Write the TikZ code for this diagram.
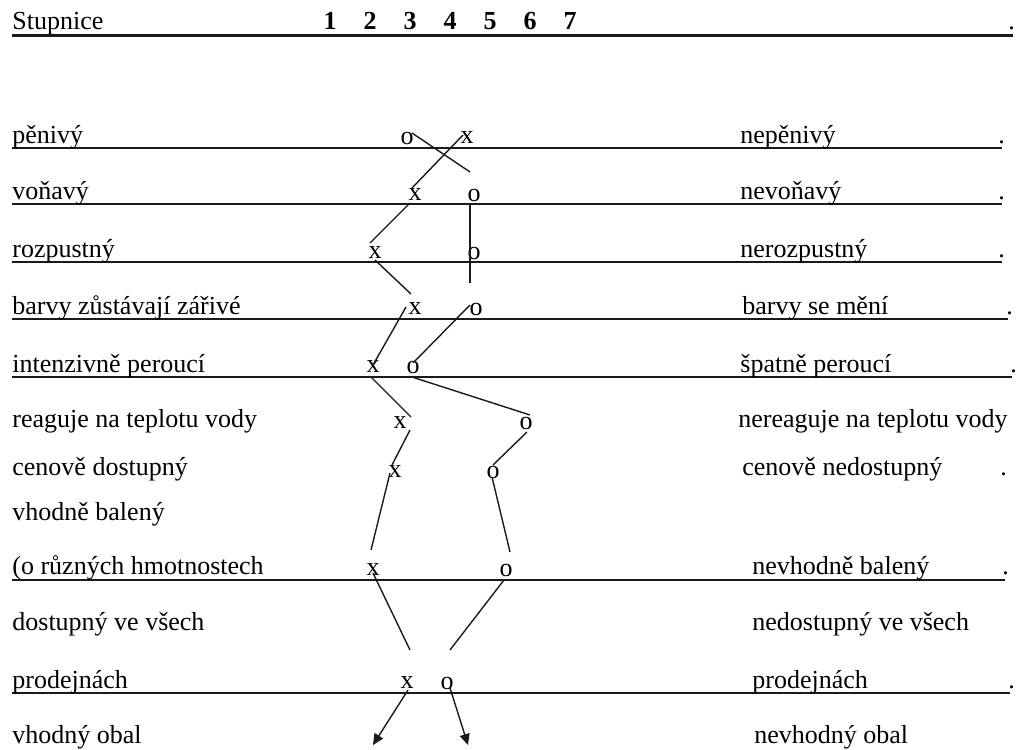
\documentclass[tikz,border=0pt]{standalone}
\usepackage{fontspec}
\setmainfont{Liberation Serif}
\usetikzlibrary{arrows.meta, positioning, calc}
\definecolor{inkBlack}{HTML}{1A1A1A}

\tikzset{
  lbl/.style={anchor=base west, inner sep=0pt},
  pick/.style={inner sep=0pt},
  digit/.style={anchor=base, inner sep=0pt, font=\bfseries\fontsize{13}{15}\selectfont},
  rule/.style={line width=1pt, inkBlack},
  link/.style={line width=0.7pt, inkBlack},
  tip/.style={link, -{Triangle[length=5.5pt, width=5pt]}}
}

\begin{document}
\begin{tikzpicture}[x=0.5pt, y=-0.5pt, font=\fontsize{13}{15}\selectfont]
  \useasboundingbox (0,0) rectangle (1019,750);

  % header of the scale
  \node[lbl] (head) at (12,29) {Stupnice};
  \foreach \n in {1,...,7} \node[digit] (d\n) at ({290+40*\n},29) {\n};
  \draw[line width=1.5pt, inkBlack] (12,35) -- (1013,35);
  \node[lbl] (headdot) at (1008,29) {.};

  % underlines
  \foreach \y/\e in {148/1002, 204/1002, 262/1002, 319/1008, 377/1012, 580/1005, 693/1010}
    \draw[rule] (12,\y) -- (\e,\y);

  % left and right poles
  \foreach \y/\t [count=\i] in {143/pěnivý, 199/voňavý, 257/rozpustný,
      314/barvy zůstávají zářivé, 372/intenzivně peroucí, 427/reaguje na teplotu vody,
      475/cenově dostupný, 520/vhodně balený, 574/{(o různých hmotnostech},
      630/dostupný ve všech, 688/prodejnách, 743/vhodný obal}
    \node[lbl] (l\i) at (12,\y) {\t};
  \foreach \x/\y/\t [count=\i] in {740/143/nepěnivý, 740/199/nevoňavý, 740/257/nerozpustný,
      742/314/barvy se mění, 740/372/špatně peroucí, 738/427/nereaguje na teplotu vody,
      742/475/cenově nedostupný, 752/574/nevhodně balený, 752/630/nedostupný ve všech,
      752/688/prodejnách, 754/743/nevhodný obal}
    \node[lbl] (r\i) at (\x,\y) {\t};
  \foreach \x/\y [count=\i] in {998/143, 998/199, 998/257, 1006/314, 1010/372,
      1000/475, 1002/574, 1008/688}
    \node[lbl] (dot\i) at (\x,\y) {.};

  % ratings
  \node[pick] (o1) at (407,138) {o};  \node[pick] (x1) at (467,138) {x};
  \node[pick] (x2) at (415,195) {x};  \node[pick] (o2) at (474,195) {o};
  \node[pick] (x3) at (375,253) {x};  \node[pick] (o3) at (474,253) {o};
  \node[pick] (x4) at (415,309) {x};  \node[pick] (o4) at (476,309) {o};
  \node[pick] (x5) at (373,367) {x};  \node[pick] (o5) at (413,367) {o};
  \node[pick] (x6) at (400,423) {x};  \node[pick] (o6) at (526,423) {o};
  \node[pick] (x7) at (395,472) {x};  \node[pick] (o7) at (493,472) {o};
  \node[pick] (x8) at (373,570) {x};  \node[pick] (o8) at (506,570) {o};
  \node[pick] (x9) at (407,683) {x};  \node[pick] (o9) at (447,683) {o};
  \coordinate (xend) at (373,745);
  \coordinate (oend) at (468,745);

  % profile of x
  \draw[link] ([shift={(-4,-3)}]x1.center) -- ([shift={(-3,-7)}]x2.center);
  \draw[link] ([shift={(-5,8)}]x2.center) -- ([shift={(-5,-10)}]x3.center);
  \draw[link] ([shift={(0,7)}]x3.center) -- ([shift={(-4,-15)}]x4.center);
  \draw[link] ([shift={(-9,-2)}]x4.center) -- ([shift={(0,-2)}]x5.center);
  \draw[link] ([shift={(-2,10)}]x5.center) -- ([shift={(11,-6)}]x6.center);
  \draw[link] ([shift={(10,7)}]x6.center) -- ([shift={(-3,-7)}]x7.center);
  \draw[link] ([shift={(-5,1)}]x7.center) -- ([shift={(-2,-20)}]x8.center);
  \draw[link] ([shift={(0,3)}]x8.center) -- ([shift={(3,-33)}]x9.center);
  \draw[tip] ([shift={(1,7)}]x9.center) -- (xend);

  % profile of o
  \draw[link] ([shift={(5,-5)}]o1.center) -- ([shift={(-4,-23)}]o2.center);
  \draw[link] ([shift={(-4,8)}]o2.center) -- ([shift={(-6,-26)}]o4.center);
  \draw[link] ([shift={(-6,-4)}]o4.center) -- ([shift={(0,-4)}]o5.center);
  \draw[link] ([shift={(-1,10)}]o5.center) -- ([shift={(4,-8)}]o6.center);
  \draw[link] ([shift={(1,9)}]o6.center) -- ([shift={(0,-7)}]o7.center);
  \draw[link] ([shift={(-1,5)}]o7.center) -- ([shift={(4,-18)}]o8.center);
  \draw[link] ([shift={(-2,10)}]o8.center) -- ([shift={(3,-33)}]o9.center);
  \draw[tip] ([shift={(3,5)}]o9.center) -- (oend);
\end{tikzpicture}
\end{document}
